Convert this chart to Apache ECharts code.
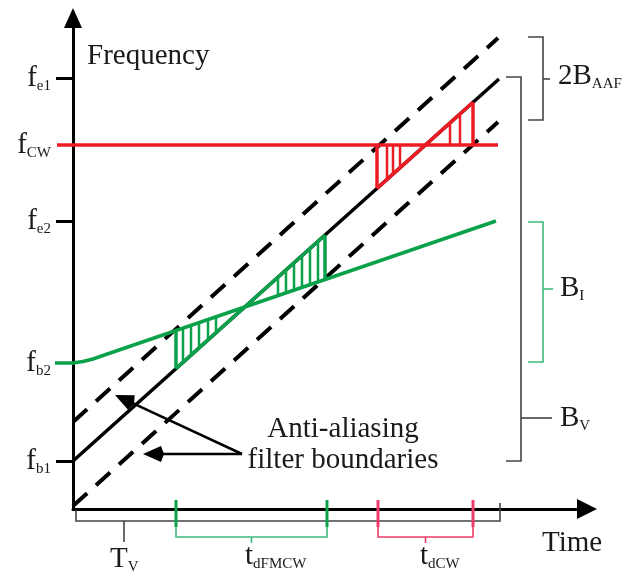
<!DOCTYPE html>
<html lang="en" style="height: 100%">
<head>
  <meta charset="utf-8">
</head>
<body style="height: 100%; margin: 0">
  <div id="container" style="height: 100%"></div>

  <script type="text/javascript" src="https://fastly.jsdelivr.net/npm/echarts@6/dist/echarts.min.js"></script>

  <script type="text/javascript">
    var dom = document.getElementById('container');
    var myChart = echarts.init(dom, null, {
      renderer: 'canvas',
      useDirtyRect: false
    });
    var option;

    // values; x = time, y = frequency (same units on both)
    var chirp = [[0, 48], [426, 430]];
    var aafUpper = [[0, 87], [425, 471]];
    var aafLower = [[0, 3], [425, 387]];
    var cwTone = [[-16, 364], [425, 364]];
    var fmcwTone = [[-18, 146], [0, 146], [10, 147.5], [20, 150], [30, 153.5], [423, 288]];

    // frequency axis
    var freqTicks = [48, 146, 288, 364, 431];
    var freqSubs = ['b1', 'b2', 'e2', 'CW', 'e1'];
    var tickMarks = [48, 288, 431];

    // hatched areas between the chirp and the interferers
    var greenEdges = [103, 252];
    var greenHatch = [110, 118, 126, 135, 143, 205, 213, 221, 229, 237, 245];
    var redEdges = [304, 400];
    var redHatch = [314, 320, 327, 377, 387];

    // spans marked by the brackets
    var spanTv = [3, 427];
    var spanFmcw = [103, 254];
    var spanCw = [305, 400];
    var bandAaf = [389, 472];
    var bandV = [48, 432];
    var bandI = [147, 287];

    // pointers from the "Anti-aliasing filter boundaries" note: [x0, y0, x1, y1]
    var pointers = [
      [169, 55, 42, 114],
      [169, 55, 70, 55]
    ];

    var serif = '"Liberation Serif", "Times New Roman", serif';
    var GREEN = '#0ba14b';
    var RED = '#ed1c24';
    var GREEN_LT = '#3dbb7f';
    var RED_LT = '#ee3b6a';
    var GRAY = '#444';
    var INK = '#1a1a1a';

    function yAt(line, x) {
      for (var i = 1; i < line.length; i++) {
        var a = line[i - 1], b = line[i];
        if (x <= b[0] || i === line.length - 1) {
          return a[1] + (b[1] - a[1]) * (x - a[0]) / (b[0] - a[0]);
        }
      }
    }

    // main lines (drawn first) and the thin marks on top
    var mainLines = [];
    var strokes = [];
    function curve(coords, color, width, type) {
      mainLines.push({ coords: coords, lineStyle: { color: color, width: width, type: type || 'solid' } });
    }
    function stroke(coords, color, width) {
      strokes.push({ coords: coords, lineStyle: { color: color, width: width } });
    }

    curve(chirp, '#000', 3.5);
    curve(aafUpper, '#000', 4, [19, 12]);
    curve(aafLower, '#000', 4, [19, 12]);
    curve(cwTone, RED, 3.5);
    curve(fmcwTone, GREEN, 3.5);

    // coloured piece of the chirp and hatch lines
    function hatchArea(edges, hatch, tone, color) {
      stroke([[edges[0], yAt(chirp, edges[0])], [edges[1], yAt(chirp, edges[1])]], color, 3.5);
      edges.forEach(function (x) {
        stroke([[x, yAt(chirp, x)], [x, yAt(tone, x)]], color, 3.5);
      });
      hatch.forEach(function (x) {
        stroke([[x, yAt(chirp, x)], [x, yAt(tone, x)]], color, 2.5);
      });
    }
    hatchArea(greenEdges, greenHatch, fmcwTone, GREEN);
    hatchArea(redEdges, redHatch, cwTone, RED);

    // right side brackets
    function bandBracket(band, x, arm, tickY, tickLen, color) {
      stroke([[x - arm, band[1]], [x, band[1]], [x, band[0]], [x - arm, band[0]]], color, 1.6);
      stroke([[x, tickY], [x + tickLen, tickY]], color, 1.6);
    }
    bandBracket(bandAaf, 470, 15, 430, 7, GRAY);
    bandBracket(bandV, 448, 15, 91, 31, GRAY);
    bandBracket(bandI, 470, 15, 220, 10, GREEN_LT);

    // time brackets below the axis
    stroke([[spanTv[0], -1], [spanTv[0], -12], [spanTv[1], -12], [spanTv[1], 6]], GRAY, 1.6);
    stroke([[(spanTv[0] + 48), -12], [(spanTv[0] + 48), -33]], GRAY, 1.6);
    function timeBracket(span, dark, light) {
      span.forEach(function (x) {
        stroke([[x, 9], [x, -18]], dark, 3);
      });
      stroke([[span[0], -18], [span[0], -28], [span[1], -28], [span[1], -18]], light, 1.6);
      var mid = (span[0] + span[1]) / 2;
      stroke([[mid, -28], [mid, -34]], light, 1.6);
    }
    timeBracket(spanFmcw, GREEN, GREEN_LT);
    timeBracket(spanCw, RED_LT, RED_LT);

    var rich = {
      m: { fontFamily: serif, fontSize: 29, lineHeight: 32, fill: INK, color: INK },
      s: { fontFamily: serif, fontSize: 15, lineHeight: 14, verticalAlign: 'bottom', fill: INK, color: INK }
    };
    function text(x, y, str, align, lh) {
      return {
        type: 'text',
        x: x,
        y: y,
        silent: true,
        style: {
          text: str,
          rich: lh ? { m: Object.assign({}, rich.m, { lineHeight: lh }), s: rich.s } : rich,
          fill: INK,
          align: align || 'left',
          verticalAlign: 'middle'
        }
      };
    }

    function linesSeries(data, z) {
      return {
        type: 'lines',
        coordinateSystem: 'cartesian2d',
        polyline: true,
        clip: false,
        silent: true,
        z: z,
        lineStyle: { opacity: 1, curveness: 0, cap: 'butt' },
        data: data
      };
    }

    // arrow: shaft plus a filled head whose tip sits on the end point
    function renderPointer(params, api) {
      var p0 = api.coord([api.value(0), api.value(1)]);
      var p1 = api.coord([api.value(2), api.value(3)]);
      var dx = p1[0] - p0[0], dy = p1[1] - p0[1];
      var len = Math.sqrt(dx * dx + dy * dy);
      var ux = dx / len, uy = dy / len;
      var headLen = 21, half = 8;
      var bx = p1[0] - ux * headLen, by = p1[1] - uy * headLen;
      return {
        type: 'group',
        children: [
          {
            type: 'line',
            shape: { x1: p0[0], y1: p0[1], x2: bx + ux * 4, y2: by + uy * 4 },
            style: { stroke: '#000', lineWidth: 2.5 }
          },
          {
            type: 'polygon',
            shape: {
              points: [
                p1,
                [bx - uy * half + ux * 3, by + ux * half + uy * 3],
                [bx, by],
                [bx + uy * half + ux * 3, by - ux * half + uy * 3]
              ]
            },
            style: { fill: '#000' }
          }
        ]
      };
    }

    option = {
      animation: false,
      backgroundColor: '#fff',
      grid: { left: 73, right: 46, top: 18, bottom: 68 },
      xAxis: {
        type: 'value',
        min: 0,
        max: 514,
        axisLine: {
          lineStyle: { color: '#000', width: 3 },
          symbol: ['none', 'triangle'],
          symbolSize: [20, 20]
        },
        axisTick: { show: false },
        axisLabel: { show: false },
        splitLine: { show: false }
      },
      yAxis: {
        type: 'value',
        min: 0,
        max: 491,
        axisLine: {
          lineStyle: { color: '#000', width: 3 },
          symbol: ['none', 'triangle'],
          symbolSize: [18, 20]
        },
        axisTick: {
          show: true,
          customValues: tickMarks,
          length: 17,
          lineStyle: { color: '#000', width: 3 }
        },
        axisLabel: {
          customValues: freqTicks,
          margin: 22,
          formatter: function (v) {
            return '{m|f}{s|' + freqSubs[freqTicks.indexOf(v)] + '}';
          },
          rich: rich
        },
        splitLine: { show: false }
      },
      series: [
        linesSeries(mainLines, 3),
        linesSeries(strokes, 5),
        {
          type: 'custom',
          coordinateSystem: 'cartesian2d',
          silent: true,
          clip: false,
          z: 6,
          encode: { x: [0, 2], y: [1, 3] },
          renderItem: renderPointer,
          data: pointers
        }
      ],
      graphic: [
        text(87, 56, '{m|Frequency}'),
        text(343, 445, '{m|Anti-aliasing}\n{m|filter boundaries}', 'center', 31),
        text(542, 543, '{m|Time}'),
        text(110, 559, '{m|T}{s|V}'),
        text(245, 556, '{m|t}{s|dFMCW}'),
        text(420, 556, '{m|t}{s|dCW}'),
        text(558, 76, '{m|2B}{s|AAF}'),
        text(560, 288, '{m|B}{s|I}'),
        text(560, 418, '{m|B}{s|V}')
      ]
    };

    if (option && typeof option === 'object') {
      myChart.setOption(option);
    }

    window.addEventListener('resize', myChart.resize);
  </script>
</body>
</html>
